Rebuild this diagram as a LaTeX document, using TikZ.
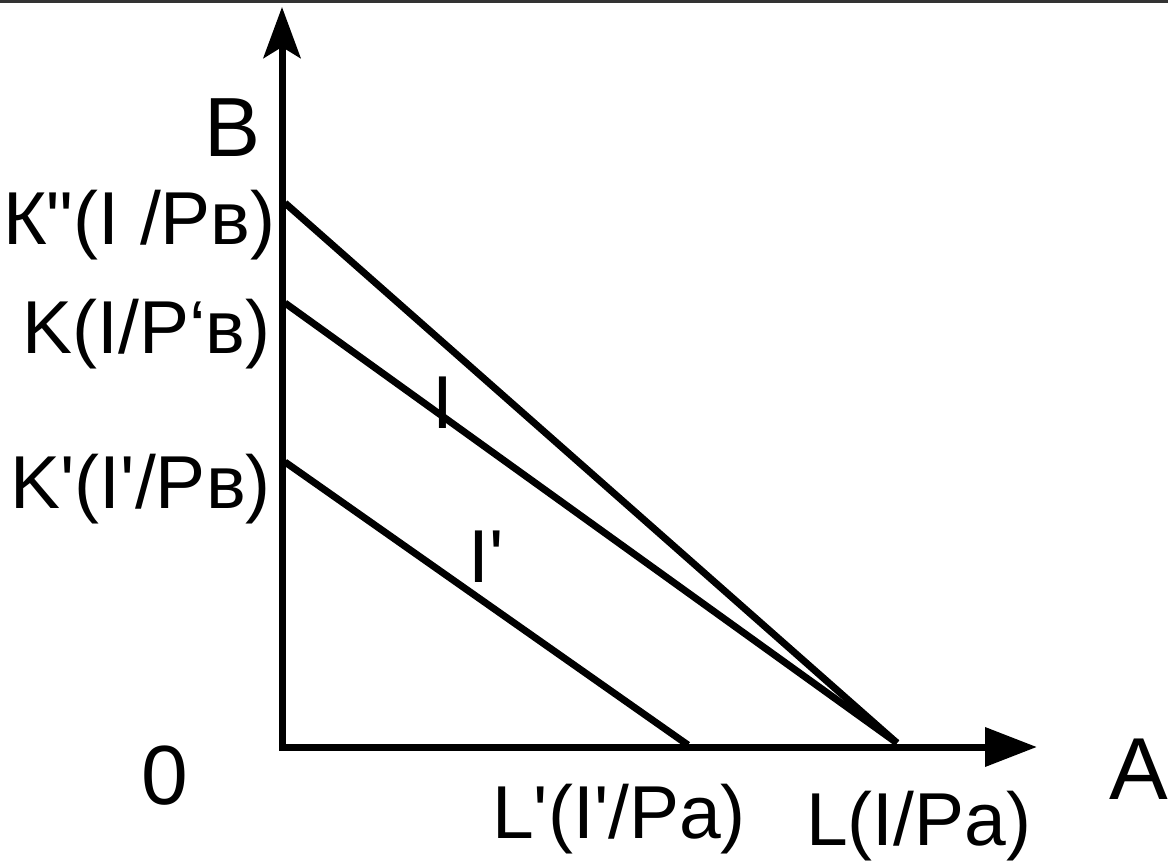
\documentclass[tikz,border=0pt]{standalone}
\usepackage{fontspec}
\setmainfont{Liberation Sans}
\usetikzlibrary{arrows.meta}
\newcommand{\lblsize}{\fontsize{75}{80}\selectfont}
\newcommand{\biglblsize}{\fontsize{84}{90}\selectfont}
\newcommand{\axlblsize}{\fontsize{88}{94}\selectfont}
\begin{document}
\begin{tikzpicture}[x=1pt,y=-1pt,
  axisline/.style={line width=7pt},
  budget/.style={line width=7pt},
  lab/.style={inner sep=0pt,font=\lblsize},
  biglab/.style={inner sep=0pt,font=\biglblsize}]
\useasboundingbox (0,0) rectangle (1168,861);
\draw[line width=3pt,black!80] (0,1.5) -- (1168,1.5);
% axes
\coordinate (O) at (282,747);
\coordinate (Oh) at (279,747);
\coordinate (Ytip) at (282,7);
\coordinate (Xtip) at (1037,747);
\draw[axisline,-{Stealth[length=51pt,width=37pt,inset=11pt]}] (O) -- (Ytip);
\draw[axisline,-{Triangle[length=52pt,width=38pt]}] (Oh) -- (Xtip);
% budget lines
\coordinate (Kpp) at (285,203);
\coordinate (K) at (285,303);
\coordinate (Kp) at (285,462);
\coordinate (Lp) at (688,745);
\coordinate (Lm) at (865,720);
\coordinate (L) at (897,743);
\draw[budget] (Kpp) -- (L);
\draw[budget,line join=miter] (K) -- (Lm) -- (L);
\draw[budget] (Kp) -- (Lp);
% labels
\node[biglab,anchor=base east] (tB) at (261,157) {B};
\node[lab,anchor=base east] (tKpp) at (276,245) {К\textquotedbl(I /Pв)};
\node[lab,anchor=base east] (tK) at (271,353) {K(I/P‘в)};
\node[lab,anchor=base east] (tKp) at (271,508) {K\textquotesingle(I\textquotesingle/Pв)};
\node[biglab,anchor=base west] (t0) at (141,804) {0};
\node[lab,anchor=base west] (tLp) at (492,838) {L\textquotesingle(I\textquotesingle/Pa)};
\node[lab,anchor=base west] (tL) at (806,845) {L(I/Pa)};
\node[inner sep=0pt,font=\axlblsize,anchor=base west] (tA) at (1109,799) {A};
\node[lab,anchor=base west] (tI) at (432,428) {I};
\node[lab,anchor=base west] (tIp) at (468,582) {I\textquotesingle};
\end{tikzpicture}
\end{document}
